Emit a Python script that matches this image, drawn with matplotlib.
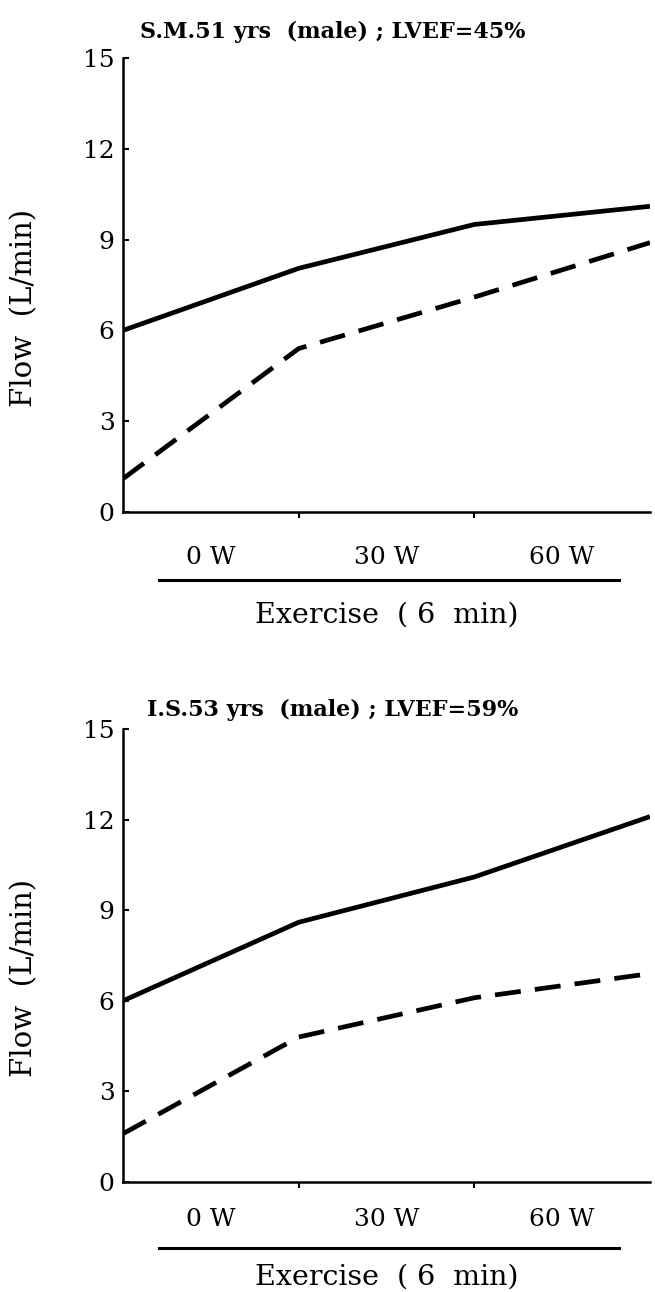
import matplotlib
matplotlib.use("Agg")
import matplotlib.pyplot as plt

plt.rcParams['font.family'] = ['DejaVu Serif']

# stage boundaries (0 W, 30 W, 60 W, each 6 min)
stage_x = [0, 1, 2, 3]
stage_labels = ['0 W', '30 W', '60 W']
stage_label_x = [0.5, 1.5, 2.5]

# top panel: S.M.
sm_title = 'S.M.51 yrs  (male) ; LVEF=45%'
sm_solid = [6.0, 8.05, 9.5, 10.1]
sm_dashed = [1.1, 5.4, 7.1, 8.9]

# bottom panel: I.S.
is_title = 'I.S.53 yrs  (male) ; LVEF=59%'
is_solid = [6.0, 8.6, 10.1, 12.1]
is_dashed = [1.6, 4.8, 6.1, 6.9]

yticks = [0, 3, 6, 9, 12, 15]

W, H = 655, 1292
fig = plt.figure(figsize=(W / 100, H / 100), dpi=100)


def panel(top_px, bottom_px, title, solid, dashed, title_y, lab_off, line_off, ex_off):
    left_px, right_px = 123, 650
    ax = fig.add_axes([left_px / W, 1 - bottom_px / H,
                       (right_px - left_px) / W, (bottom_px - top_px) / H])
    ax.plot(stage_x, solid, color='black', lw=3.4, solid_capstyle='butt')
    ax.plot(stage_x, dashed, color='black', lw=3.4, dashes=(5.5, 3))
    ax.set_xlim(0, 3)
    ax.set_ylim(0, 15)
    for s in ['top', 'right']:
        ax.spines[s].set_visible(False)
    ax.spines['left'].set_linewidth(1.8)
    ax.spines['bottom'].set_linewidth(1.8)
    ax.set_yticks(yticks)
    ax.tick_params(axis='y', direction='in', length=4, width=1.5,
                   labelsize=18, pad=6)
    ax.set_xticks([1, 2])
    ax.set_xticklabels([])
    ax.tick_params(axis='x', direction='out', length=4, width=1.5)
    ax.set_ylabel('Flow  (L/min)', fontsize=21)
    ax.yaxis.set_label_coords(-0.16, 0.45)

    h = bottom_px - top_px
    for lx, lab in zip(stage_label_x, stage_labels):
        ax.text(lx, -lab_off / h, lab, transform=ax.get_xaxis_transform(),
                ha='center', va='center', fontsize=18)
    ax.plot([0.068, 0.941], [-line_off / h] * 2, transform=ax.transAxes,
            color='black', lw=2.2, clip_on=False)
    ax.text(0.50, -ex_off / h, 'Exercise  ( 6  min)', transform=ax.transAxes,
            ha='center', va='center', fontsize=20.5)
    fig.text(333 / W, 1 - title_y / H, title, ha='center', va='center',
             fontsize=16, fontweight='bold')
    return ax


panel(58, 512, sm_title, sm_solid, sm_dashed, 32, 45, 68, 103)
panel(729, 1182, is_title, is_solid, is_dashed, 710, 38, 66, 95)

fig.savefig('out.png', dpi=100)
